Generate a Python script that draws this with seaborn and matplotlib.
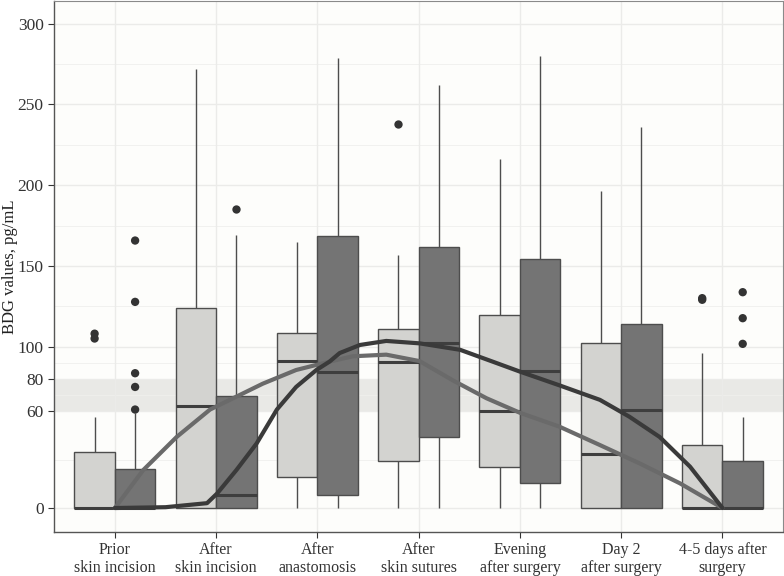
import numpy as np
import pandas as pd
import matplotlib
matplotlib.use("Agg")
import matplotlib.pyplot as plt
import seaborn as sns

stages = ["Prior\nskin incision", "After\nskin incision", "After\nanastomosis",
          "After\nskin sutures", "Evening\nafter surgery", "Day 2\nafter surgery",
          "4-5 days after\nsurgery"]
groups = ["light", "dark"]

# five-number summaries
light_lo = [0, 0, 0, 0, 0, 0, 0]
light_q1 = [0, 0, 19.4, 29, 25.6, 0, 0]
light_med = [0, 63, 91, 90.7, 60, 33.3, 0]
light_q3 = [35, 124, 108.7, 110.7, 119.6, 102.5, 39]
light_hi = [56.6, 272, 164.7, 157, 216, 196.5, 95.9]

dark_lo = [0, 0, 0, 0, 0, 0, 0]
dark_q1 = [0, 0, 8, 43.8, 15.3, 0, 0]
dark_med = [0, 8, 84.5, 102, 85, 60.7, 0]
dark_q3 = [24, 69.4, 168.8, 161.5, 154.5, 114.3, 29]
dark_hi = [59, 169, 278.5, 262, 279.8, 236, 56.6]

# outliers per (stage index, value)
light_out_stage = [0, 0, 3, 6, 6]
light_out_val = [105, 108, 238, 129, 130]
dark_out_stage = [0, 0, 0, 0, 0, 1, 6, 6, 6]
dark_out_val = [61, 75, 83.5, 127.7, 165.7, 185, 101.7, 117.6, 133.7]

# smoothed trend curves, read along the stage axis
light_curve_pos = [0, 0.28, 0.61, 0.94, 1.2, 1.46, 1.79, 2.12, 2.35, 2.68,
                   3.01, 3.34, 3.67, 4.0, 4.39, 4.79, 5.18, 5.58, 6]
light_curve = [0, 23.5, 44, 61, 69, 77, 85.5, 90.7, 94, 95,
               91, 79, 68, 59, 50.4, 39, 27.7, 15.3, 0]
dark_curve_pos = [0, 0.5, 0.91, 1.01, 1.2, 1.4, 1.6, 1.79, 1.99, 2.12, 2.22,
                  2.42, 2.68, 3.01, 3.41, 3.73, 4.0, 4.39, 4.79, 5.08, 5.38,
                  5.68, 6]
dark_curve = [0, 0.5, 3, 9, 23.5, 40, 61, 75, 85.5, 90.7, 96,
              101, 103.5, 102, 98, 90.7, 84.5, 76, 67, 56.6, 44,
              25.6, 0]

rows = []
for i, s in enumerate(stages):
    for v in [light_lo[i], light_q1[i], light_med[i], light_q3[i], light_hi[i]]:
        rows.append((s, "light", v))
    for v in [dark_lo[i], dark_q1[i], dark_med[i], dark_q3[i], dark_hi[i]]:
        rows.append((s, "dark", v))
box_df = pd.DataFrame(rows, columns=["stage", "group", "value"])

out_rows = [(stages[i], "light", v) for i, v in zip(light_out_stage, light_out_val)]
out_rows += [(stages[i], "dark", v) for i, v in zip(dark_out_stage, dark_out_val)]
out_df = pd.DataFrame(out_rows, columns=["stage", "group", "value"])

sns.set_theme(style="white")
plt.rcParams["font.family"] = ["Liberation Serif", "DejaVu Serif"]

fig = plt.figure(figsize=(7.84, 5.76), dpi=100)
ax = fig.add_axes([0.069, 0.076, 0.930, 0.922])
ax.set_facecolor("#fdfdfb")

ax.axhspan(60, 80, color="#e9e9e6", zorder=0, lw=0)

major_y = [0, 60, 80, 100, 150, 200, 250, 300]
minor_y = [30, 70, 90, 125, 175, 225, 275]
for y in major_y:
    ax.axhline(y, color="#ebebe9", lw=1.0, zorder=0.5)
for y in minor_y:
    ax.axhline(y, color="#efefed", lw=0.6, zorder=0.5)
for x in range(len(stages)):
    ax.axvline(x, color="#ebebe9", lw=1.0, zorder=0.5)

sns.boxplot(data=box_df, x="stage", y="value", hue="group", order=stages,
            hue_order=groups, palette={"light": "#d3d3d0", "dark": "#747474"},
            whis=np.inf, width=0.8, gap=0, linecolor="#4d4d4d", linewidth=1.0,
            showcaps=False, fliersize=0, legend=False, saturation=1,
            medianprops={"linewidth": 2.2, "color": "#3e3e3e"}, ax=ax)

sns.stripplot(data=out_df, x="stage", y="value", hue="group", order=stages,
              hue_order=groups, palette={"light": "#333333", "dark": "#333333"},
              dodge=True, jitter=False, size=6, linewidth=0, legend=False,
              zorder=4, ax=ax)

sns.lineplot(x=light_curve_pos, y=light_curve, color="#6a6a6a", lw=3,
             ax=ax, zorder=5)
sns.lineplot(x=dark_curve_pos, y=dark_curve, color="#3a3a3a", lw=3,
             ax=ax, zorder=6)

ax.set_xlim(-0.6, 6.6)
ax.set_ylim(-15, 314)
ax.set_yticks(major_y)
ax.set_yticklabels([str(v) for v in major_y])
ax.set_xticks(range(len(stages)))
ax.set_xticklabels(stages, linespacing=1.2)
ax.tick_params(axis="y", labelsize=12.5, colors="#333333", length=4,
               width=0.8, left=True)
ax.tick_params(axis="x", labelsize=11.5, colors="#333333", length=4,
               width=0.8, bottom=True, pad=3)
ax.set_xlabel("")
ax.set_ylabel("BDG values, pg/mL", fontsize=12, color="#222222")
ax.yaxis.set_label_coords(-0.049, 0.5)

for side in ["top", "right"]:
    ax.spines[side].set_color("#8a8a8a")
    ax.spines[side].set_linewidth(0.8)
for side in ["left", "bottom"]:
    ax.spines[side].set_color("#555555")
    ax.spines[side].set_linewidth(1.0)

fig.savefig("out.png", dpi=100, facecolor="white")
